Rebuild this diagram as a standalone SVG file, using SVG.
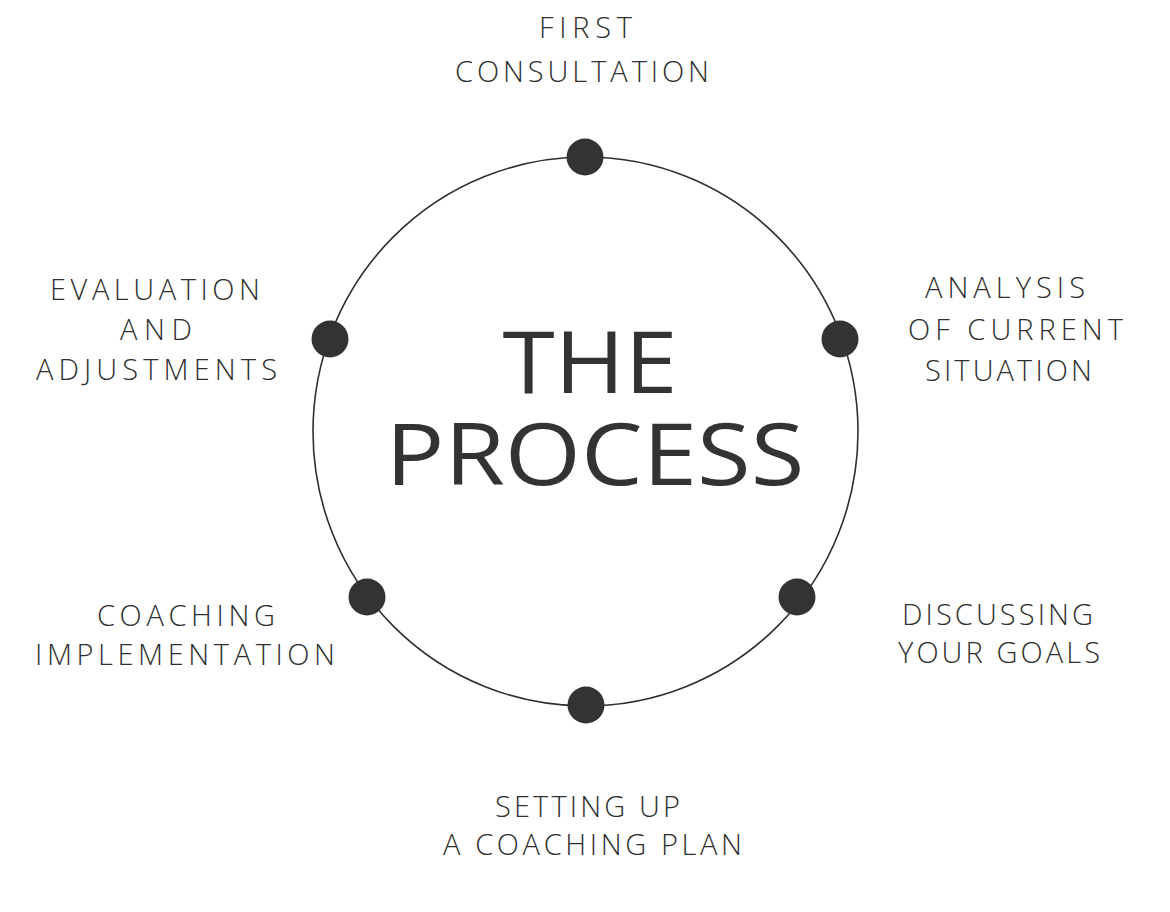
<svg xmlns="http://www.w3.org/2000/svg" width="1170" height="912" viewBox="0 0 1170 912">
<style>
.lbl{font-family:"Open Sans","Liberation Sans",sans-serif;font-weight:300;font-size:29px;fill:#2f2f2f;text-anchor:middle}
.title{font-family:"Open Sans","Liberation Sans",sans-serif;font-weight:400;font-size:86px;fill:#333333;text-anchor:middle}
.dot{fill:#333333}
</style>
<rect width="1170" height="912" fill="#ffffff"/>
<g id="connectors">
<ellipse cx="585.5" cy="431.5" rx="272.5" ry="274.5" fill="none" stroke="#2f2f2f" stroke-width="1.6"/>
</g>
<g id="title">
<text class="title" x="590" y="393" textLength="175" lengthAdjust="spacingAndGlyphs">THE</text>
<text class="title" x="595" y="485" textLength="419" lengthAdjust="spacingAndGlyphs">PROCESS</text>
</g>
<g id="node-first-consultation">
<circle class="dot" cx="585" cy="157" r="18.5"/>
<text class="lbl" x="585.5" y="38" textLength="93" lengthAdjust="spacing">FIRST</text>
<text class="lbl" x="582" y="82" textLength="254" lengthAdjust="spacing">CONSULTATION</text>
</g>
<g id="node-analysis">
<circle class="dot" cx="840" cy="339" r="18.5"/>
<text class="lbl" x="1005" y="298" textLength="160" lengthAdjust="spacing">ANALYSIS</text>
<text class="lbl" x="1015.5" y="340" textLength="215" lengthAdjust="spacing">OF CURRENT</text>
<text class="lbl" x="1008.5" y="381" textLength="167" lengthAdjust="spacing">SITUATION</text>
</g>
<g id="node-discussing">
<circle class="dot" cx="797" cy="597" r="18.5"/>
<text class="lbl" x="997.5" y="625" textLength="191" lengthAdjust="spacing">DISCUSSING</text>
<text class="lbl" x="999" y="663" textLength="202" lengthAdjust="spacing">YOUR GOALS</text>
</g>
<g id="node-setting-up">
<circle class="dot" cx="586" cy="705" r="18.5"/>
<text class="lbl" x="587.5" y="817" textLength="185" lengthAdjust="spacing">SETTING UP</text>
<text class="lbl" x="592.5" y="855" textLength="299" lengthAdjust="spacing">A COACHING PLAN</text>
</g>
<g id="node-coaching">
<circle class="dot" cx="367" cy="597" r="18.5"/>
<text class="lbl" x="186" y="626" textLength="178" lengthAdjust="spacing">COACHING</text>
<text class="lbl" x="185" y="665" textLength="300" lengthAdjust="spacing">IMPLEMENTATION</text>
</g>
<g id="node-evaluation">
<circle class="dot" cx="330" cy="339" r="18.5"/>
<text class="lbl" x="155" y="300" textLength="210" lengthAdjust="spacing">EVALUATION</text>
<text class="lbl" x="156" y="340" textLength="72" lengthAdjust="spacing">AND</text>
<text class="lbl" x="156.5" y="380" textLength="241" lengthAdjust="spacing">ADJUSTMENTS</text>
</g>
</svg>
